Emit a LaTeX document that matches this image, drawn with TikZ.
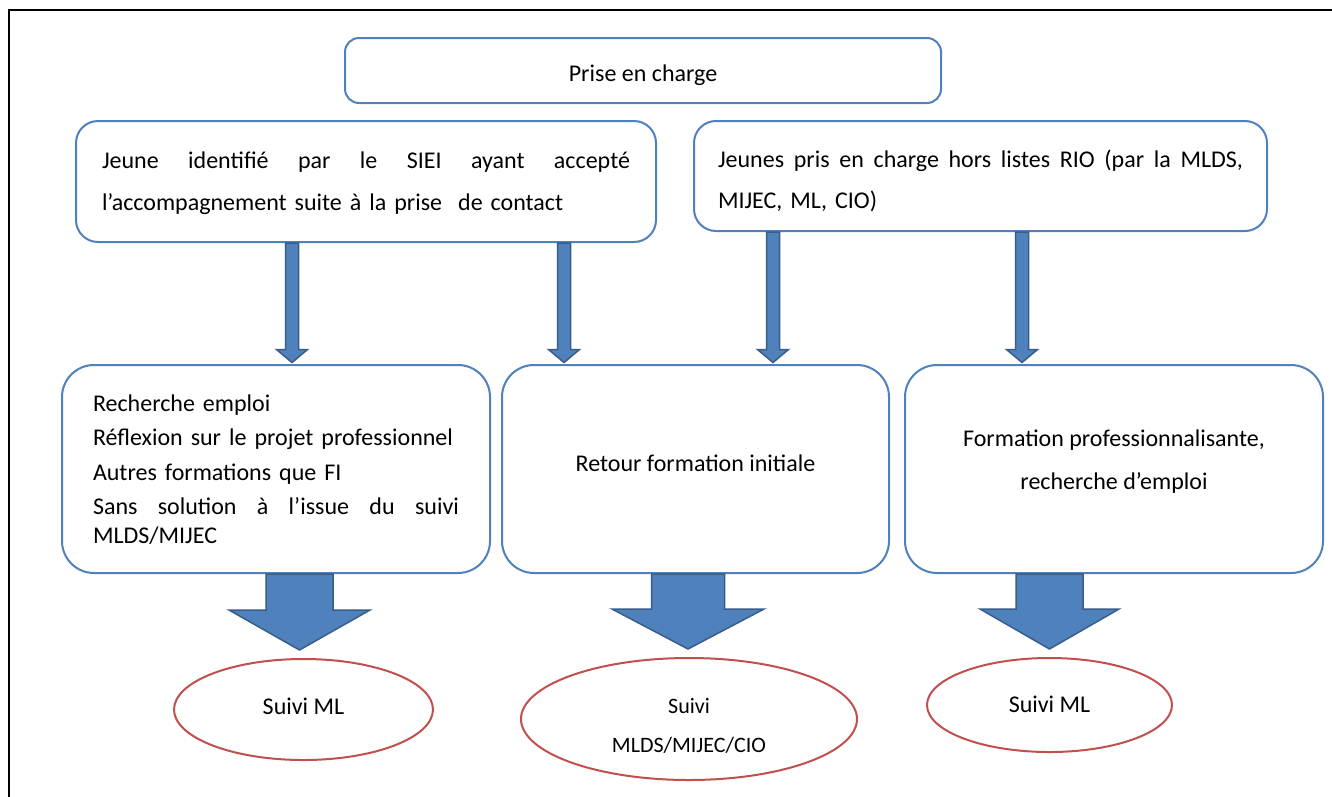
\documentclass[tikz,border=0pt]{standalone}
\usepackage{fontspec}
\setmainfont{Carlito}
\frenchspacing
\usetikzlibrary{calc,shapes.geometric}
\definecolor{boxblue}{HTML}{4F81BD}
\definecolor{arrowedge}{HTML}{385D8A}
\definecolor{ovalred}{HTML}{C0504D}

% block arrow pointing down: #1 top point, #2 tip point,
% #3 shaft half width, #4 head half width, #5 head length
\newcommand\downblock[5]{%
  \path[blockarrow] let \p1=(#1), \p2=(#2) in
    (\x1-#3,\y1) -- (\x1+#3,\y1) -- (\x1+#3,\y2+#5) -- (\x1+#4,\y2+#5)
    -- (\x1,\y2) -- (\x1-#4,\y2+#5) -- (\x1-#3,\y2+#5) -- cycle;}

\begin{document}
\begin{tikzpicture}[x=1pt,y=-1pt,
  box/.style={draw=boxblue,line width=2pt,fill=white,inner sep=0pt},
  txt/.style={inner sep=0pt,font=\fontsize{24}{29}\selectfont},
  oval/.style={ellipse,draw=ovalred,line width=2pt,fill=white,inner sep=0pt},
  blockarrow/.style={fill=boxblue,draw=arrowedge,line width=1.5pt,line join=miter},
  frameline/.style={draw=black,line width=2pt}
]
\clip (0,0) rectangle (1332,796);
\fill[white] (0,0) rectangle (1332,796);
\draw[frameline] (8.5,830) -- (8.5,9.5) -- (1360,9.5);

% ---- boxes ----
\node[box,rounded corners=14pt,minimum width=596pt,minimum height=65pt] (prise) at (643,70.5) {};
\node[box,rounded corners=22pt,minimum width=580pt,minimum height=121pt] (jeune) at (366,181.5) {};
\node[box,rounded corners=22pt,minimum width=573pt,minimum height=110pt] (hors) at (980.5,176) {};
\node[box,rounded corners=32pt,minimum width=428pt,minimum height=208pt] (emploi) at (276,469) {};
\node[box,rounded corners=32pt,minimum width=387pt,minimum height=208pt] (retour) at (695.5,469) {};
\node[box,rounded corners=32pt,minimum width=418pt,minimum height=208pt] (formpro) at (1114,469) {};

\node[oval,minimum width=259pt,minimum height=101pt] (suiviA) at (303.5,709.5) {};
\node[oval,minimum width=336pt,minimum height=122pt] (suiviB) at (689,719) {};
\node[oval,minimum width=245pt,minimum height=94pt] (suiviC) at (1049.5,705) {};

% ---- texts ----
\node[txt,text depth=0pt] (prisetxt) at ($(prise.center)+(0,3)$) {Prise en charge};

\node[txt,text width=528pt,align=left,font=\fontsize{24}{42}\selectfont]
  (jeunetxt) at ($(jeune.center)+(0,2)$)
  {\makebox[528pt][l]{Jeune\hfill identifié\hfill par\hfill le\hfill SIEI\hfill ayant\hfill accepté}\\
   l’accompagnement suite à la prise\ \ de contact};

\node[txt,text width=525pt,align=left,font=\fontsize{24}{41}\selectfont]
  (horstxt) at ($(hors.center)+(0,5)$)
  {\makebox[525pt][l]{Jeunes\hfill pris\hfill en\hfill charge\hfill hors\hfill listes\hfill RIO\hfill (par\hfill la\hfill MLDS,}\\
   MIJEC, ML, CIO)};

\node[txt,text width=366pt,align=left,font=\fontsize{24}{29.4}\selectfont]
  (emploitxt) at ($(emploi.center)+(0,1)$)
  {Recherche emploi\\[4.9pt]
   Réflexion sur le projet professionnel\\[4.9pt]
   Autres formations que FI\\[4.9pt]
   \makebox[366pt][l]{Sans\hfill solution\hfill à\hfill l’issue\hfill du\hfill suivi}\\
   MLDS/MIJEC};

\node[txt] (retourtxt) at ($(retour.center)+(0,-6)$) {Retour formation initiale};

\node[txt,align=center,font=\fontsize{24}{43}\selectfont]
  (formprotxt) at ($(formpro.center)+(0,-7)$)
  {Formation professionnalisante,\\ recherche d’emploi};

\node[txt] (suiviAtxt) at ($(suiviA.center)+(0,-3)$) {Suivi ML};
\node[txt,align=center,font=\fontsize{22}{39}\selectfont]
  (suiviBtxt) at ($(suiviB.center)+(0,7)$) {Suivi\\ MLDS/MIJEC/CIO};
\node[txt] (suiviCtxt) at ($(suiviC.center)+(0,-1)$) {Suivi ML};

% ---- arrow axes ----
\coordinate (t1) at (292,0);
\coordinate (t2) at (564,0);
\coordinate (t3) at (773,0);
\coordinate (t4) at (1022,0);
\coordinate (b1) at (299.5,0);
\coordinate (b2) at (688,0);
\coordinate (b3) at (1049.5,0);

% thin arrows
\downblock{jeune.south -| t1}{$(emploi.north -| t1)+(0,-1.5)$}{6.5pt}{15.5pt}{13pt}
\downblock{jeune.south -| t2}{$(retour.north -| t2)+(0,-1.5)$}{6.5pt}{15.5pt}{13pt}
\downblock{hors.south -| t3}{$(retour.north -| t3)+(0,-1.5)$}{6.5pt}{15.5pt}{13pt}
\downblock{hors.south -| t4}{$(formpro.north -| t4)+(0,-1.5)$}{6.5pt}{15.5pt}{13pt}

% wide arrows
\downblock{emploi.south -| b1}{$(suiviA.north -| b1)+(0,-8)$}{33.5pt}{70.5pt}{40pt}
\downblock{retour.south -| b2}{$(suiviB.north -| b2)+(0,-8)$}{36.5pt}{76pt}{40pt}
\downblock{formpro.south -| b3}{$(suiviC.north -| b3)+(0,-8)$}{33.5pt}{69.5pt}{40pt}
\end{tikzpicture}
\end{document}
